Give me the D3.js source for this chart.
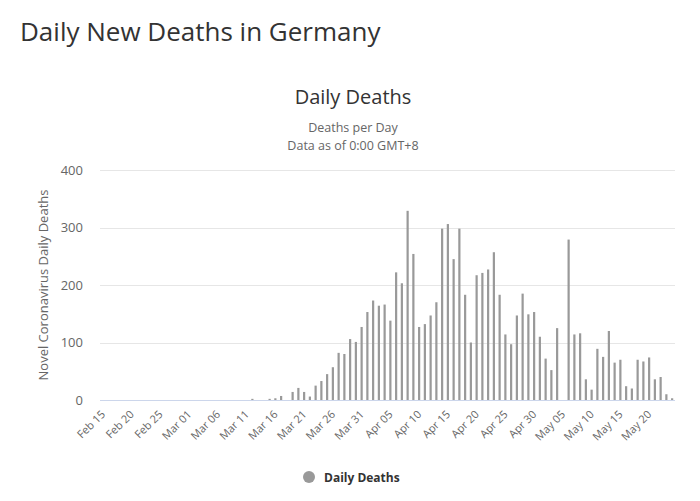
<!DOCTYPE html>
<html>
<head>
<meta charset="utf-8">
<script src="https://cdn.jsdelivr.net/npm/d3@7"></script>
<style>
  body { margin: 0; background: #fff; font-family: "Open Sans", sans-serif; }
</style>
</head>
<body>
<div id="chart"></div>
<script>
// daily deaths, Feb 15 - May 24 2020 (one value per day)
const startDate = "2020-02-15";
const dailyDeaths = [
    0, 0, 0, 0, 0, 0, 0, 0, 0, 0,          // Feb 15 - Feb 24
    0, 0, 0, 0, 0, 0, 0, 0, 0, 0,          // Feb 25 - Mar 05
    0, 0, 0, 0, 0, 0, 2, 0, 0, 2,          // Mar 06 - Mar 15
    3, 7, 0, 14, 21, 14, 6, 25, 33, 45,    // Mar 16 - Mar 25
    57, 82, 80, 106, 101, 127, 153, 173, 164, 166, // Mar 26 - Apr 04
    138, 222, 203, 329, 254, 127, 132, 147, 170, 298, // Apr 05 - Apr 14
    306, 245, 298, 183, 100, 217, 221, 227, 257, 183, // Apr 15 - Apr 24
    114, 97, 147, 185, 149, 153, 110, 72, 52, 125,    // Apr 25 - May 04
    0, 279, 114, 116, 36, 18, 89, 75, 120, 65,        // May 05 - May 14
    70, 24, 20, 70, 67, 74, 36, 40, 10, 3             // May 15 - May 24
];
const yTicks = [0, 100, 200, 300, 400];
const xTickLabels = ["Feb 15", "Feb 20", "Feb 25", "Mar 01", "Mar 06", "Mar 11", "Mar 16",
    "Mar 21", "Mar 26", "Mar 31", "Apr 05", "Apr 10", "Apr 15", "Apr 20", "Apr 25",
    "Apr 30", "May 05", "May 10", "May 15", "May 20"];

const width = 700, height = 501;
const margin = { top: 170, right: 25, bottom: 101, left: 100 };

const parse = d3.timeParse("%Y-%m-%d");
const fmt = d3.timeFormat("%b %d");
const dates = dailyDeaths.map((v, i) => d3.timeDay.offset(parse(startDate), i));
const data = dates.map((d, i) => ({ key: fmt(d), value: dailyDeaths[i] }));

const svg = d3.select("#chart")
    .append("svg")
    .attr("width", width)
    .attr("height", height);

// headings
svg.append("text")
    .attr("x", 20).attr("y", 41)
    .style("font-size", "26px")
    .style("fill", "#333")
    .text("Daily New Deaths in Germany");

svg.append("text")
    .attr("x", 353).attr("y", 104)
    .attr("text-anchor", "middle")
    .style("font-size", "20px")
    .style("fill", "#333")
    .text("Daily Deaths");

svg.append("text")
    .attr("x", 353).attr("y", 132)
    .attr("text-anchor", "middle")
    .style("font-size", "12.5px")
    .style("fill", "#666")
    .text("Deaths per Day");

svg.append("text")
    .attr("x", 353).attr("y", 150)
    .attr("text-anchor", "middle")
    .style("font-size", "12.5px")
    .style("fill", "#666")
    .text("Data as of 0:00 GMT+8");

const x = d3.scaleBand()
    .domain(data.map(d => d.key))
    .range([margin.left, width - margin.right]);

const y = d3.scaleLinear()
    .domain([0, 400])
    .range([height - margin.bottom, margin.top]);

// grid lines
svg.append("g")
    .selectAll("line")
    .data(yTicks)
    .enter()
    .append("line")
    .attr("x1", margin.left)
    .attr("x2", width - margin.right)
    .attr("y1", d => Math.round(y(d)) + 0.5)
    .attr("y2", d => Math.round(y(d)) + 0.5)
    .attr("stroke", "#e6e6e6");

// y tick labels
svg.append("g")
    .selectAll("text")
    .data(yTicks)
    .enter()
    .append("text")
    .attr("x", 83)
    .attr("y", d => y(d) + 4.5)
    .attr("text-anchor", "end")
    .style("font-size", "13px")
    .style("fill", "#666")
    .text(d => d);

svg.append("text")
    .attr("transform", `translate(48, ${(margin.top + height - margin.bottom) / 2}) rotate(-90)`)
    .attr("text-anchor", "middle")
    .style("font-size", "13px")
    .style("fill", "#666")
    .text("Novel Coronavirus Daily Deaths");

// bars
const barW = 2.2;
svg.append("g")
    .selectAll("rect")
    .data(data)
    .enter()
    .append("rect")
    .attr("x", d => x(d.key) + x.bandwidth() / 2 - barW / 2)
    .attr("y", d => y(d.value))
    .attr("width", barW)
    .attr("height", d => y(0) - y(d.value))
    .attr("fill", "#999");

// x axis line
svg.append("line")
    .attr("x1", margin.left)
    .attr("x2", width - margin.right)
    .attr("y1", y(0) + 0.5)
    .attr("y2", y(0) + 0.5)
    .attr("stroke", "#ccd6eb");

// x tick labels (rotated)
svg.append("g")
    .selectAll("text")
    .data(xTickLabels)
    .enter()
    .append("text")
    .attr("transform", d => {
        const cx = x(d) + x.bandwidth() / 2;
        return `translate(${cx + 3}, ${y(0) + 15}) rotate(-45)`;
    })
    .attr("text-anchor", "end")
    .style("font-size", "11px")
    .style("fill", "#666")
    .text(d => d);

// legend
const legend = svg.append("g").attr("transform", "translate(309, 477)");
legend.append("circle")
    .attr("r", 6)
    .attr("fill", "#999");
legend.append("text")
    .attr("x", 15)
    .attr("y", 4.5)
    .style("font-size", "12px")
    .style("font-weight", "bold")
    .style("fill", "#333")
    .text("Daily Deaths");
</script>
</body>
</html>
